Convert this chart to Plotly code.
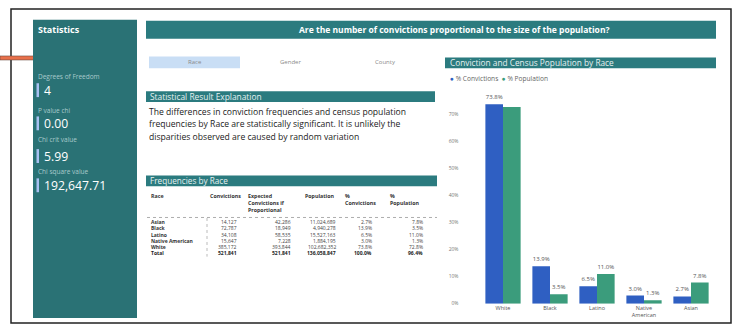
import plotly.graph_objects as go

W, H = 735, 328

# ---- data -------------------------------------------------------------
chart_races = ["White", "Black", "Latino", "Native American", "Asian"]
pct_convictions = [73.8, 13.9, 6.5, 3.0, 2.7]
pct_population = [72.8, 3.5, 11.0, 1.3, 7.8]
pop_label_shown = [False, True, True, True, True]
y_ticks = [0, 10, 20, 30, 40, 50, 60, 70]

table_races = ["Asian", "Black", "Latino", "Native American", "White"]
convictions = [14127, 72787, 34108, 15647, 385172]
expected_if_proportional = [42286, 18949, 58535, 7228, 393844]
population = [11024689, 4940278, 15527163, 1884195, 102682352]
table_pct_conv = [2.7, 13.9, 6.5, 3.0, 73.8]
table_pct_pop = [7.8, 3.5, 11.0, 1.3, 72.8]
total_row = ["Total", "521,841", "521,841", "136,058,847", "100.0%", "96.4%"]

stat_names = ["Degrees of Freedom", "P value chi", "Chi crit value", "Chi square value"]
stat_values = ["4", "0.00", "5.99", "192,647.71"]

slicer_options = ["Race", "Gender", "County"]

# ---- styling ------------------------------------------------------------
TEAL = "#2b7b7f"
PANEL = "#2a7275"
BLUE = "#2f5fc2"
GREEN = "#3b9c7c"
FONT = "Open Sans"


def X(px):
    return px / W


def Y(py):
    return 1 - py / H


shapes = []
annotations = []


def rect(x0, y0, x1, y1, fill, line_color=None, line_width=0):
    shapes.append(dict(type="rect", xref="paper", yref="paper",
                       x0=X(x0), x1=X(x1), y0=Y(y1), y1=Y(y0),
                       fillcolor=fill,
                       line=dict(color=line_color or fill, width=line_width),
                       layer="below"))


def line(x0, y0, x1, y1, color, width=1, dash="solid"):
    shapes.append(dict(type="line", xref="paper", yref="paper",
                       x0=X(x0), x1=X(x1), y0=Y(y0), y1=Y(y1),
                       line=dict(color=color, width=width, dash=dash)))


def text(x, y, s, size=6, color="#333", anchor="left", bold=False,
         yanchor="middle", family=FONT):
    if bold:
        s = "<b>" + s + "</b>"
    annotations.append(dict(x=X(x), y=Y(y), xref="paper", yref="paper",
                            text=s, showarrow=False, xanchor=anchor,
                            yanchor=yanchor, align=anchor if anchor != "center" else "center",
                            font=dict(size=size, color=color, family=family)))


# outer frame
rect(11, 9, 731, 326, "white", "#222", 1.5)

# pointer bar at the left
rect(0, 56.5, 88, 60.5, "#e8704a", "#6a4a40", 0.6)

# statistics panel
rect(33, 20, 137, 321, PANEL)
text(36, 30, "Statistics", size=9, color="white", bold=True)
label_y = [77, 111.5, 141, 173]
value_y = [91, 124.5, 157.5, 187]
for name, val, ly, vy in zip(stat_names, stat_values, label_y, value_y):
    text(36, ly, name, size=6.5, color="#a9cacc")
    rect(36.5, vy - 7, 39, vy + 7, "#a9c1f2")
    text(42, vy, val, size=12.2, color="white")

# main heading bar
rect(146, 21, 716, 39, TEAL)
text(454, 30, "Are the number of convictions proportional to the size of the population?",
     size=8.5, color="white", anchor="center", bold=True)

# slicer
rect(149, 57, 240, 69, "#c9def5")
for opt, cx in zip(slicer_options, [194.5, 290, 385]):
    text(cx, 63, opt, size=6, color="#8a8a8a", anchor="center")

# explanation section
rect(146, 92, 435, 103, TEAL)
text(148, 97.5, "Statistical Result Explanation", size=8.4, color="#e6f0f0")
explanation = ["The differences in conviction frequencies and census population",
               "frequencies by Race are statistically significant. It is unlikely the",
               "disparities observed are caused by random variation"]
for i, s in enumerate(explanation):
    text(147, 113 + i * 12.5, s, size=8.6, color="#222")

# frequency table
rect(146, 177, 437, 188, TEAL)
text(148, 182.5, "Frequencies by Race", size=8.2, color="#e6f0f0")

headers = [("Race", 149), ("Convictions", 208), ("Expected<br>Convictions if<br>Proportional", 246),
           ("Population", 303), ("%<br>Convictions", 343), ("%<br>Population", 388)]
for h, hx in headers:
    text(hx, 191.5, h, size=5.3, color="#333", bold=True, yanchor="top")

line(147, 219.5, 437, 219.5, "#999", 0.8, "dot")
line(207, 220, 207, 259, "#aaa", 0.8, "dot")

col_right = [239, 293, 338, 374, 425]
row_y = [224.3, 230.5, 236.7, 243, 249.3, 255.5]
for i, race in enumerate(table_races):
    cells = [f"{convictions[i]:,}", f"{expected_if_proportional[i]:,}",
             f"{population[i]:,}", f"{table_pct_conv[i]:.1f}%", f"{table_pct_pop[i]:.1f}%"]
    text(149, row_y[i], race, size=5, color="#333", bold=True)
    for c, cx in zip(cells, col_right):
        text(cx, row_y[i], c, size=5, color="#444", anchor="right")
text(149, row_y[5], total_row[0], size=5, color="#222", bold=True)
for c, cx in zip(total_row[1:], col_right):
    text(cx, row_y[5], c, size=5, color="#222", anchor="right", bold=True)

# bar chart header and legend
rect(445, 58, 716, 69, TEAL)
text(448, 63.5, "Conviction and Census Population by Race", size=8.3, color="#e6f0f0")
text(448, 79.5, f"<span style='color:{BLUE}'>●</span> % Convictions  "
                f"<span style='color:{GREEN}'>●</span> % Population",
     size=6.6, color="#666")

conv_text = [f"{v:.1f}%" for v in pct_convictions]
pop_text = [f"{v:.1f}%" if show else "" for v, show in zip(pct_population, pop_label_shown)]
tick_labels = [r.replace(" ", "<br>") for r in chart_races]

fig = go.Figure()
fig.add_trace(go.Bar(x=chart_races, y=pct_convictions, name="% Convictions",
                     marker=dict(color=BLUE, line=dict(width=0)),
                     text=conv_text, textposition="outside", cliponaxis=False,
                     textfont=dict(size=6, color="#555", family=FONT)))
fig.add_trace(go.Bar(x=chart_races, y=pct_population, name="% Population",
                     marker=dict(color=GREEN, line=dict(width=0)),
                     text=pop_text, textposition="outside", cliponaxis=False,
                     textfont=dict(size=6, color="#555", family=FONT)))

fig.update_layout(
    width=W, height=H, autosize=False,
    margin=dict(l=0, r=0, t=0, b=0),
    paper_bgcolor="white", plot_bgcolor="rgba(0,0,0,0)",
    barmode="group", bargap=0.25, bargroupgap=0,
    showlegend=False,
    font=dict(family=FONT),
    shapes=shapes, annotations=annotations,
    uniformtext=dict(minsize=5, mode="show"),
    xaxis=dict(domain=[X(479.5), X(714.5)], anchor="y",
               tickmode="array", tickvals=chart_races, ticktext=tick_labels,
               tickfont=dict(size=5.5, color="#555"),
               showgrid=False, showline=False, zeroline=False, ticks=""),
    yaxis=dict(domain=[Y(306.5), Y(88.4)], range=[0, 80],
               tickmode="array", tickvals=y_ticks,
               ticktext=[f"{t}%" for t in y_ticks],
               tickfont=dict(size=5, color="#777"),
               ticklabelstandoff=20,
               showgrid=False, showline=False, zeroline=False, ticks=""),
)

fig.write_html("out.html")
